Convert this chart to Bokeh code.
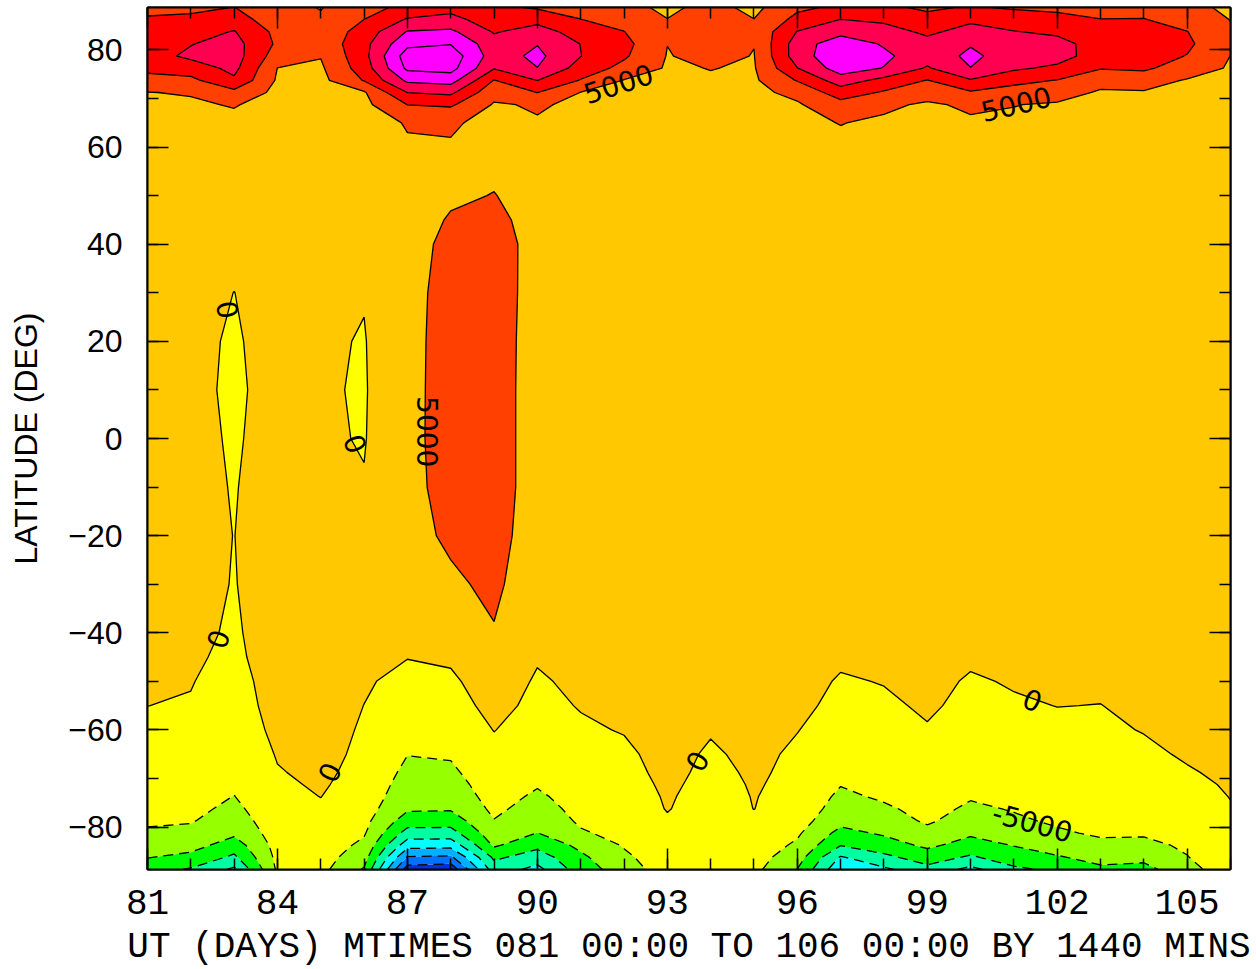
import numpy as np
from bokeh.plotting import figure
from bokeh.models import LinearAxis, FixedTicker
from bokeh.core.properties import value
from bokeh.embed import file_html
from bokeh.resources import INLINE

# ---------------- data ----------------
DAYS = list(range(81, 107))
LATS = [-88.75, -86.25, -83.75, -81.25, -78.75, -76.25, -73.75, -71.25, -68.75,
        -65, -60, -55, -50, -45, -40, -30, -20, -10, 0, 10, 20, 30, 40,
        45, 50, 55, 60, 65, 68.75, 71.25, 73.75, 76.25, 78.75, 81.25, 83.75, 86.25, 88.75]

# one latitude profile (south -> north) per day
D081 = [-13000, -9800, -7600, -5400, -4600, -3900, -3300, -2800, -2300, -1700, -900, 20, 700, 1300, 1700, 2000, 2200, 2300, 2400, 2400, 2400, 2400, 2500, 2600, 2700, 2800, 3000, 3800, 4500, 4900, 8300, 11200, 13000, 13300, 12500, 10600, 8600]
D082 = [-15500, -11500, -8000, -6100, -4700, -3800, -3100, -2500, -2000, -1400, -900, -300, 200, 800, 1300, 1500, 1300, 1700, 1800, 1500, 1500, 2000, 2500, 2600, 2700, 2900, 3100, 3600, 4400, 5300, 8800, 12500, 16000, 14800, 13000, 11000, 9000]
D083 = [-21000, -16000, -12500, -9000, -7300, -6100, -5100, -4500, -4000, -3500, -3200, -2500, -1800, -1200, -700, -200, -50, -300, -700, -1000, -700, -50, 1500, 2000, 2300, 2500, 2500, 3800, 5300, 8500, 14200, 16300, 17200, 16800, 15300, 12000, 10100]
D084 = [-4200, -3700, -3200, -2700, -2200, -1700, -1200, -700, -250, 300, 1300, 2000, 2200, 2900, 2800, 2500, 2450, 2700, 2480, 2200, 2500, 2400, 2300, 2300, 2300, 2200, 2000, 2600, 3200, 3800, 4400, 4950, 7500, 9200, 8700, 7500, 6500]
D085 = [-3600, -2900, -2200, -1600, -1000, -500, 50, 500, 900, 1300, 1600, 1700, 1600, 1400, 1200, 1000, 800, 600, 450, 370, 500, 900, 1300, 1500, 1700, 1900, 2000, 2200, 2700, 3200, 3700, 4300, 5200, 6500, 6300, 5600, 4800]
D086 = [-10500, -8000, -6100, -4500, -3600, -2900, -2300, -1800, -1400, -900, -450, -30, 400, 700, 900, 800, 600, 200, -200, -300, -200, 200, 700, 1000, 1500, 1900, 2200, 2500, 3800, 4500, 10300, 12500, 13500, 13500, 12200, 10050, 8000]
D087 = [-37500, -30500, -23000, -17000, -12500, -9300, -7900, -7000, -6100, -4900, -3300, -2000, -1000, 100, 1300, 2800, 3400, 3500, 3500, 3450, 3500, 3500, 3500, 3400, 3300, 3300, 4400, 5400, 10050, 15050, 21000, 26000, 27500, 23800, 20300, 15500, 11500]
D088 = [-38500, -31000, -23200, -17000, -12700, -9500, -8100, -7000, -5900, -4500, -2800, -1600, -700, 600, 2000, 4200, 5800, 6800, 7200, 7200, 7000, 6700, 6000, 5300, 4500, 4300, 4800, 5300, 10700, 16000, 22000, 26800, 28000, 24800, 21000, 16500, 13500]
D089 = [-17500, -14000, -9300, -6900, -5200, -4000, -3100, -2400, -1800, -1100, 100, 1200, 2200, 3200, 4700, 6000, 6800, 7000, 7000, 7000, 7000, 6900, 6500, 5800, 5100, 4500, 4000, 4300, 4600, 6500, 9800, 15300, 17500, 17000, 14600, 12500, 11000]
D090 = [-21500, -17600, -13600, -10100, -8300, -7000, -5800, -4600, -3700, -2800, -1800, -1000, -450, 350, 1000, 1800, 2500, 3000, 3000, 3000, 3100, 3400, 3770, 3800, 3700, 3600, 3700, 4700, 5400, 10100, 15050, 19900, 21200, 19800, 17200, 13500, 9500]
D091 = [-12500, -11000, -8800, -5500, -4300, -3500, -2900, -2300, -1800, -1200, -500, 200, 800, 1400, 1800, 2200, 2500, 2700, 2800, 2800, 2800, 2800, 2900, 2900, 2900, 3000, 3000, 3600, 4300, 4900, 9700, 13000, 15100, 14900, 12800, 10100, 8200]
D092 = [-7500, -6000, -4600, -3700, -3000, -2500, -2000, -1600, -1200, -700, 200, 800, 1200, 1600, 1900, 2200, 2400, 2500, 2500, 2500, 2500, 2500, 2500, 2500, 2500, 2500, 2500, 3000, 3600, 4200, 4800, 8500, 10700, 11500, 10100, 8000, 6500]
D093 = [-2500, -2000, -1500, -1000, -450, 200, 400, 700, 1000, 1300, 1700, 2000, 2200, 2300, 2400, 2500, 2500, 2500, 2500, 2500, 2500, 2500, 2500, 2500, 2500, 2400, 2300, 2800, 3300, 3700, 4100, 4500, 4800, 5050, 5600, 5100, 4000]
D094 = [-4700, -4000, -3300, -2800, -2300, -1900, -1500, -1200, -900, -500, 300, 900, 1300, 1700, 2000, 2300, 2500, 2500, 2500, 2500, 2500, 2500, 2500, 2500, 2500, 2500, 2400, 3000, 3600, 4100, 4600, 5100, 6200, 7000, 7200, 7000, 6500]
D095 = [-3750, -3000, -2200, -1500, -700, 50, 150, 300, 500, 900, 1600, 2000, 2200, 2400, 2500, 2500, 2500, 2500, 2500, 2500, 2500, 2500, 2500, 2500, 2500, 2500, 2500, 3000, 3500, 3900, 4300, 4600, 4850, 5100, 6000, 5100, 3800]
D096 = [-10100, -7800, -5800, -4300, -3000, -2000, -1300, -900, -750, -600, 100, 800, 1400, 1800, 2100, 2400, 2500, 2500, 2500, 2500, 2500, 2500, 2500, 2500, 2500, 2500, 3300, 4200, 4500, 6200, 10300, 14900, 17500, 17500, 15200, 11500, 9000]
D097 = [-24000, -20500, -14800, -11500, -8500, -7100, -6000, -4800, -3800, -2700, -1600, -900, -350, 600, 1300, 2000, 2400, 2600, 2700, 2700, 2700, 2700, 2700, 2800, 3000, 3300, 4200, 5100, 8200, 12500, 17500, 22500, 24000, 23000, 18500, 15100, 11000]
D098 = [-21000, -16200, -12300, -9300, -7200, -5800, -4300, -3300, -2600, -1900, -1200, -600, 150, 800, 1400, 2000, 2400, 2500, 2600, 2600, 2600, 2600, 2600, 2800, 3000, 3300, 3900, 4400, 5700, 9500, 13500, 19800, 21000, 19500, 17200, 14000, 11000]
D099 = [-16500, -12700, -9000, -6300, -4400, -3400, -2700, -2100, -1600, -1000, -250, 500, 1100, 1600, 1900, 2200, 2400, 2500, 2500, 2500, 2500, 2500, 2500, 2500, 2600, 2800, 3500, 4200, 4500, 6500, 9800, 14500, 17000, 16800, 14000, 11500, 9200]
D100 = [-21500, -15700, -12000, -9200, -7000, -5800, -4600, -3600, -2800, -1900, -1300, -900, -400, 600, 1300, 2000, 2400, 2600, 2600, 2600, 2600, 2600, 2600, 2700, 2900, 3200, 4000, 4500, 5600, 9400, 14600, 19900, 21100, 19600, 17000, 14000, 10500]
D101 = [-16000, -12400, -9800, -7500, -5700, -4700, -3800, -3000, -2400, -1700, -1000, -400, 300, 1000, 1500, 2000, 2400, 2500, 2500, 2500, 2500, 2500, 2500, 2600, 2700, 3000, 3800, 4400, 5100, 7800, 11500, 15800, 17500, 17000, 15200, 12500, 9500]
D102 = [-14000, -10500, -7500, -5600, -4400, -3600, -3000, -2400, -1900, -1300, -700, 50, 700, 1300, 1700, 2100, 2400, 2500, 2500, 2500, 2500, 2500, 2500, 2500, 2600, 2800, 3500, 4100, 4600, 6500, 9800, 14000, 17000, 16500, 14200, 11500, 9000]
D103 = [-11000, -8300, -6000, -4400, -3500, -2900, -2400, -2000, -1600, -1100, -600, -50, 600, 1200, 1600, 2000, 2300, 2400, 2400, 2400, 2400, 2400, 2400, 2400, 2500, 2700, 3300, 3900, 4400, 4600, 6200, 10300, 12500, 13000, 12000, 10100, 8500]
D104 = [-11500, -8800, -6300, -4400, -3400, -2700, -2100, -1700, -1300, -700, 150, 800, 1300, 1700, 1900, 2200, 2400, 2400, 2400, 2400, 2400, 2400, 2400, 2400, 2500, 2600, 3200, 3800, 4300, 4700, 6600, 11000, 12300, 12500, 11600, 10200, 8300]
D105 = [-7000, -5200, -4200, -3500, -2800, -2200, -1600, -900, -300, 400, 900, 1500, 1900, 2100, 2300, 2400, 2400, 2400, 2400, 2400, 2400, 2400, 2400, 2400, 2400, 2500, 3000, 3500, 4000, 4500, 4700, 7000, 9800, 11000, 10100, 8000, 6000]
D106 = [-1600, -1300, -1000, -750, -500, -250, 100, 400, 700, 1100, 1500, 1900, 2100, 2200, 2300, 2300, 2300, 2300, 2300, 2300, 2300, 2300, 2300, 2300, 2300, 2300, 2800, 3300, 3700, 4000, 4300, 4600, 4950, 5300, 5400, 4900, 4300]

COLUMNS = [D081, D082, D083, D084, D085, D086, D087, D088, D089, D090, D091, D092, D093,
           D094, D095, D096, D097, D098, D099, D100, D101, D102, D103, D104, D105, D106]

LEVELS = [-40000, -35000, -30000, -25000, -20000, -15000, -10000, -5000,
          0, 5000, 10000, 15000, 20000, 25000, 30000]
BAND_COLORS = ["#0030E0", "#0070FF", "#00B0FF", "#00FFFF", "#00FFA0", "#00FF00", "#96FF00",
               "#FFFF00", "#FFC800", "#FF4000", "#FF0000", "#FF0050", "#FF00FF", "#FF00FF"]
NEG_LINE_LEVELS = [-35000, -30000, -25000, -20000, -15000, -10000, -5000]
POS_LINE_LEVELS = [0, 5000, 10000, 15000, 20000, 25000]

X_TICKS = list(range(81, 106, 3))
Y_TICKS = list(range(-80, 81, 20))
Y_MINOR = list(range(-80, 81, 10))

LABEL_TEXT = ["5000", "5000", "5000", "0", "0", "0", "0", "0", "0", "-5000"]
LABEL_DAY = [91.87, 101.05, 87.47, 82.85, 85.8, 82.63, 85.2, 93.69, 101.43, 101.43]
LABEL_LAT = [73.1, 68.9, 1.4, 26.5, -1.1, -41.3, -68.7, -66.4, -53.85, -79.0]
LABEL_ANGLE = [18, 13, -90, -80, -70, 72, 65, 60, -23, -15]

Z = np.array(COLUMNS, dtype=float).T

# ---------------- figure ----------------
p = figure(frame_width=1083, frame_height=862, x_range=(81, 106), y_range=(-88.75, 88.75),
           output_backend="svg", toolbar_location=None,
           min_border_left=147, min_border_right=26, min_border_top=7, min_border_bottom=0)
p.grid.visible = False
p.outline_line_color = "black"
p.outline_line_width = 2

p.contour(x=DAYS, y=LATS, z=Z, levels=LEVELS, fill_color=BAND_COLORS, line_color=None)
p.contour(x=DAYS, y=LATS, z=Z, levels=NEG_LINE_LEVELS, fill_color=None,
          line_color="black", line_width=1.3, line_dash="10 6")
p.contour(x=DAYS, y=LATS, z=Z, levels=POS_LINE_LEVELS, fill_color=None,
          line_color="black", line_width=1.3)

p.text(x=LABEL_DAY, y=LABEL_LAT, text=LABEL_TEXT, angle=LABEL_ANGLE, angle_units="deg",
       text_font=value("DejaVu Sans"), text_font_size="28px", text_align="center",
       text_baseline="middle", text_color="black")


def style_ticks(ax, major, minor):
    ax.ticker = FixedTicker(ticks=major, minor_ticks=minor)
    ax.major_tick_in = 21
    ax.major_tick_out = 0
    ax.minor_tick_in = 11
    ax.minor_tick_out = 0
    ax.major_tick_line_color = "black"
    ax.minor_tick_line_color = "black"
    ax.major_tick_line_width = 1.5
    ax.minor_tick_line_width = 1.5
    ax.axis_line_color = "black"
    ax.axis_line_width = 2


xb = p.xaxis[0]
style_ticks(xb, X_TICKS, DAYS)
xb.major_label_text_font = "Liberation Mono"
xb.major_label_text_font_size = "36px"
xb.major_label_text_color = "black"
xb.major_label_standoff = 20
xb.axis_label = "UT (DAYS) MTIMES 081 00:00 TO 106 00:00 BY 1440 MINS"
xb.axis_label_text_font = "Liberation Mono"
xb.axis_label_text_font_size = "36px"
xb.axis_label_text_font_style = "normal"
xb.axis_label_text_color = "black"
xb.axis_label_standoff = 10

yl = p.yaxis[0]
style_ticks(yl, Y_TICKS, Y_MINOR)
yl.major_label_text_font = "Liberation Sans"
yl.major_label_text_font_size = "32px"
yl.major_label_text_color = "black"
yl.major_label_standoff = 25
yl.axis_label = "LATITUDE (DEG)"
yl.axis_label_text_font = "Liberation Sans"
yl.axis_label_text_font_size = "32px"
yl.axis_label_text_font_style = "normal"
yl.axis_label_text_color = "black"
yl.axis_label_standoff = 21

top = LinearAxis()
style_ticks(top, X_TICKS, DAYS)
top.major_label_text_font_size = "0px"
top.major_label_text_color = None
top.major_label_standoff = 0
p.add_layout(top, "above")

right = LinearAxis()
style_ticks(right, Y_TICKS, Y_MINOR)
right.major_label_text_font_size = "0px"
right.major_label_text_color = None
right.major_label_standoff = 0
p.add_layout(right, "right")

open("out.html", "w").write(file_html(p, INLINE))
